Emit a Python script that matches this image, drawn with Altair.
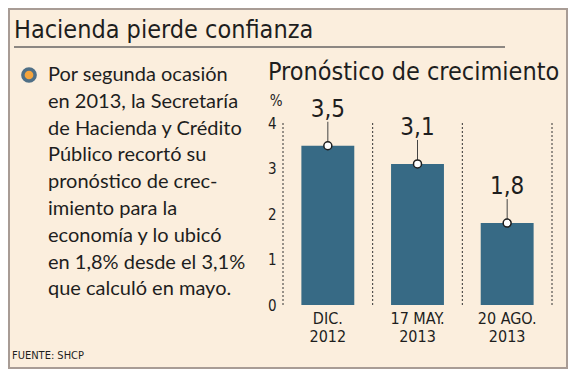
import altair as alt
import pandas as pd

# ---- data ----
categories = ["DIC.|2012", "17 MAY.|2013", "20 AGO.|2013"]
values = [3.5, 3.1, 1.8]
value_labels = ["3,5", "3,1", "1,8"]
y_ticks = [0, 1, 2, 3, 4]

title_text = "Hacienda pierde confianza"
subtitle_text = "Pronóstico de crecimiento"
paragraph = [
    "Por segunda ocasión",
    "en 2013, la Secretaría",
    "de Hacienda y Crédito",
    "Público recortó su",
    "pronóstico de crec-",
    "imiento para la",
    "economía y lo ubicó",
    "en 1,8% desde el 3,1%",
    "que calculó en mayo.",
]
source_text = "FUENTE: SHCP"

df = pd.DataFrame({"cat": categories, "val": values, "lab": value_labels})

BG = "#FBEEDD"
BAR = "#376A85"
INK = "#1E1E1E"
FONT = "DejaVu Sans Condensed"
PFONT = "Lato"

W, H = 269, 182
PAD = {"left": 275, "top": 115, "right": 16, "bottom": 64}

one = pd.DataFrame({"k": [0]})

x_enc = alt.X(
    "cat:N",
    sort=categories,
    scale=alt.Scale(paddingInner=0.41, paddingOuter=0.205),
    axis=alt.Axis(
        title=None,
        labelExpr="split(datum.value, '|')",
        labelAngle=0,
        domain=False,
        ticks=False,
        labelFontSize=16,
        labelLineHeight=18,
        labelPadding=5,
        labelColor=INK,
        labelFont=FONT,
    ),
)
y_enc = alt.Y(
    "val:Q",
    scale=alt.Scale(domain=[0, 4]),
    axis=alt.Axis(
        values=y_ticks,
        title="%",
        titleAngle=0,
        titleX=-1,
        titleY=-18,
        titleAlign="right",
        titleBaseline="alphabetic",
        titleFontWeight="normal",
        titleFontSize=15,
        titleFont=FONT,
        titleColor=INK,
        domain=False,
        ticks=False,
        grid=False,
        labelPadding=7,
        labelFontSize=15,
        labelFont=FONT,
        labelColor=INK,
    ),
)

bars = alt.Chart(df).mark_bar(color=BAR).encode(x=x_enc, y=y_enc)

connector = alt.Chart(df).mark_rule(color="#444444", strokeWidth=1, y2Offset=-24).encode(
    x=alt.X("cat:N", sort=categories), y="val:Q", y2="val:Q"
)

dots = alt.Chart(df).mark_point(
    filled=True, fill="white", stroke=INK, strokeWidth=1.5, size=64, opacity=1
).encode(x=alt.X("cat:N", sort=categories), y="val:Q")

vlabels = alt.Chart(df).mark_text(
    dy=-29, fontSize=24, baseline="alphabetic", color=INK, font=FONT
).encode(x=alt.X("cat:N", sort=categories), y="val:Q", text="lab:N")

step = W / 3.0
dividers = [
    alt.Chart(one).mark_rule(color="#333333", strokeWidth=1, strokeDash=[2, 2]).encode(
        x=alt.value(i * step), y=alt.value(0), y2=alt.value(H)
    )
    for i in range(4)
]

def txt(text, x, y, size, font=FONT, color=INK, **kw):
    return alt.Chart(one).mark_text(
        text=text, align="left", baseline="alphabetic", fontSize=size, font=font, color=color, **kw
    ).encode(x=alt.value(x), y=alt.value(y))

ox, oy = 283, 123  # plot origin in reference pixels

title = txt(title_text, 14 - ox, 38 - oy, 25)
underline = alt.Chart(one).mark_rule(color="#8C8782", strokeWidth=2).encode(
    x=alt.value(14 - ox), x2=alt.value(505 - ox), y=alt.value(47 - oy)
)
subtitle = txt(subtitle_text, 268 - ox, 80 - oy, 25)
para = txt(paragraph, 48 - ox, 81 - oy, 20, font=PFONT, lineHeight=26.8)
bullet = alt.Chart(one).mark_point(
    filled=True, fill="#F5A43C", stroke="#4F6F86", strokeWidth=3.5, size=150, opacity=1
).encode(x=alt.value(29 - ox), y=alt.value(75 - oy))
source = txt(source_text, 12 - ox, 359 - oy, 11)

frame = alt.Chart(one).mark_rect(fill=None, stroke="#A89C95", strokeWidth=2).encode(
    x=alt.value(-PAD["left"] + 1), x2=alt.value(W + PAD["right"] - 1),
    y=alt.value(-PAD["top"] + 1), y2=alt.value(H + PAD["bottom"] - 1),
)

chart = alt.layer(
    frame, *dividers, bars, connector, dots, vlabels,
    title, underline, subtitle, para, bullet, source,
).properties(
    width=W, height=H, padding=PAD, autosize=alt.AutoSizeParams(type="none"),
    background=BG,
).configure_view(stroke=None)

chart.save("out.html", embed_options={"renderer": "svg", "actions": False})
